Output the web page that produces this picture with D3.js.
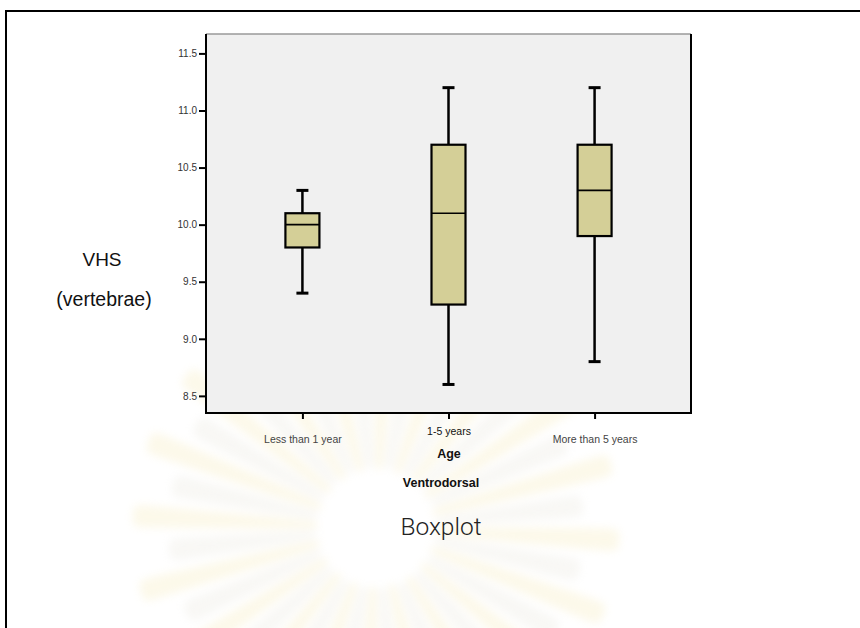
<!DOCTYPE html>
<html>
<head>
<meta charset="utf-8">
<script src="https://cdn.jsdelivr.net/npm/d3@7/dist/d3.min.js"></script>
<style>
  html, body { margin: 0; padding: 0; background: #fff; }
  svg { display: block; }
  text { font-family: "Liberation Sans", Arial, sans-serif; }
</style>
</head>
<body>
<svg id="chart" width="860" height="628"></svg>
<script>
// ---- data ----
const categories = ["Less than 1 year", "1-5 years", "More than 5 years"];
const whiskerLow  = [9.4, 8.6, 8.8];
const q1          = [9.8, 9.3, 9.9];
const median      = [10.0, 10.1, 10.3];
const q3          = [10.1, 10.7, 10.7];
const whiskerHigh = [10.3, 11.2, 11.2];
const yTicks = [8.5, 9.0, 9.5, 10.0, 10.5, 11.0, 11.5];

const svg = d3.select("#chart");

// ---- faint watermark (decorative sunburst) ----
const defs = svg.append("defs");
defs.append("filter").attr("id", "soft").attr("x", "-20%").attr("y", "-20%")
  .attr("width", "140%").attr("height", "140%")
  .append("feGaussianBlur").attr("stdDeviation", 4);
const wm = svg.append("g").attr("transform", "translate(376,528)")
  .attr("filter", "url(#soft)").attr("opacity", 0.22);
const nRays = 40;
for (let i = 0; i < nRays; i++) {
  const a = (i / nRays) * 2 * Math.PI + 0.05;
  const r0 = 66, r1 = (i % 2 === 0) ? 235 : 200;
  const wi = 4, wo = 11;
  const ca = Math.cos(a), sa = Math.sin(a);
  const px = -sa, py = ca;
  const p = [
    [r0 * ca - wi * px, r0 * sa - wi * py],
    [r1 * ca - wo * px, r1 * sa - wo * py],
    [(r1 + 8) * ca, (r1 + 8) * sa],
    [r1 * ca + wo * px, r1 * sa + wo * py],
    [r0 * ca + wi * px, r0 * sa + wi * py]
  ];
  wm.append("path")
    .attr("d", d3.line().curve(d3.curveCardinalClosed.tension(0.6))(p))
    .attr("fill", i % 2 === 0 ? "#f3e3a0" : "#e2dfd2");
}

// ---- outer frame ----
svg.append("line").attr("x1", 6).attr("x2", 860).attr("y1", 11).attr("y2", 11)
  .attr("stroke", "#000").attr("stroke-width", 2);
svg.append("line").attr("x1", 6).attr("x2", 6).attr("y1", 10).attr("y2", 628)
  .attr("stroke", "#000").attr("stroke-width", 2);

// ---- plot ----
const pLeft = 206, pRight = 691, pTop = 34, pBottom = 413;
const y = d3.scaleLinear().domain([8.35, 11.67]).range([pBottom, pTop]);
const x = d3.scalePoint().domain(categories).range([pLeft, pRight]).padding(0.66);

svg.append("rect").attr("x", pLeft).attr("y", pTop)
  .attr("width", pRight - pLeft).attr("height", pBottom - pTop)
  .attr("fill", "#f0f0f0");
svg.append("line").attr("x1", pLeft).attr("x2", pRight).attr("y1", pTop).attr("y2", pTop)
  .attr("stroke", "#9a9a9a").attr("stroke-width", 1.5);
svg.append("path")
  .attr("d", `M${pLeft},${pTop}V${pBottom}H${pRight}V${pTop}`)
  .attr("fill", "none").attr("stroke", "#000").attr("stroke-width", 2);

// y axis
const yAxis = d3.axisLeft(y).tickValues(yTicks).tickFormat(d3.format(".1f"))
  .tickSize(7).tickPadding(2);
const yg = svg.append("g").attr("transform", `translate(${pLeft},0)`).call(yAxis);
yg.select(".domain").remove();
yg.selectAll(".tick line").attr("stroke", "#000").attr("stroke-width", 2);
yg.selectAll(".tick text").attr("fill", "#333").style("font-size", "10px")
  .style("font-family", "Liberation Sans, Arial, sans-serif");

// x axis
const xAxis = d3.axisBottom(x).tickSize(6).tickPadding(0);
const xg = svg.append("g").attr("transform", `translate(0,${pBottom})`).call(xAxis);
xg.select(".domain").remove();
xg.selectAll(".tick line").attr("stroke", "#000").attr("stroke-width", 2);
xg.selectAll(".tick text")
  .attr("fill", (d, i) => i % 2 === 1 ? "#111" : "#444")
  .attr("y", (d, i) => i % 2 === 1 ? 22 : 30)
  .attr("dy", "0")
  .style("font-size", "10.5px")
  .style("font-family", "Liberation Sans, Arial, sans-serif");

// boxes
const boxW = 34, capW = 12;
const g = svg.append("g");
categories.forEach((c, i) => {
  const cx = x(c);
  g.append("line").attr("x1", cx).attr("x2", cx)
    .attr("y1", y(whiskerLow[i])).attr("y2", y(whiskerHigh[i]))
    .attr("stroke", "#000").attr("stroke-width", 2.5);
  [whiskerLow[i], whiskerHigh[i]].forEach(v => {
    g.append("line").attr("x1", cx - capW / 2).attr("x2", cx + capW / 2)
      .attr("y1", y(v)).attr("y2", y(v))
      .attr("stroke", "#000").attr("stroke-width", 3);
  });
  g.append("rect").attr("x", cx - boxW / 2).attr("y", y(q3[i]))
    .attr("width", boxW).attr("height", y(q1[i]) - y(q3[i]))
    .attr("fill", "#d4cf97").attr("stroke", "#000").attr("stroke-width", 2.2);
  g.append("line").attr("x1", cx - boxW / 2).attr("x2", cx + boxW / 2)
    .attr("y1", y(median[i])).attr("y2", y(median[i]))
    .attr("stroke", "#000").attr("stroke-width", 1.6);
});

// titles
svg.append("text").attr("x", 449).attr("y", 458).attr("text-anchor", "middle")
  .style("font-size", "12.5px").style("font-weight", "bold").attr("fill", "#111").text("Age");
svg.append("text").attr("x", 441).attr("y", 487).attr("text-anchor", "middle")
  .style("font-size", "12.5px").style("font-weight", "bold").attr("fill", "#111").text("Ventrodorsal");
svg.append("text").attr("x", 441).attr("y", 535).attr("text-anchor", "middle")
  .style("font-size", "24.5px").style("font-family", "Roboto, 'Liberation Sans', sans-serif")
  .style("font-weight", "300").attr("fill", "#222").text("Boxplot");
svg.append("text").attr("x", 102).attr("y", 266).attr("text-anchor", "middle")
  .style("font-size", "19px").attr("fill", "#111").text("VHS");
svg.append("text").attr("x", 104).attr("y", 306).attr("text-anchor", "middle")
  .style("font-size", "19.5px").attr("fill", "#111").text("(vertebrae)");
</script>
</body>
</html>
